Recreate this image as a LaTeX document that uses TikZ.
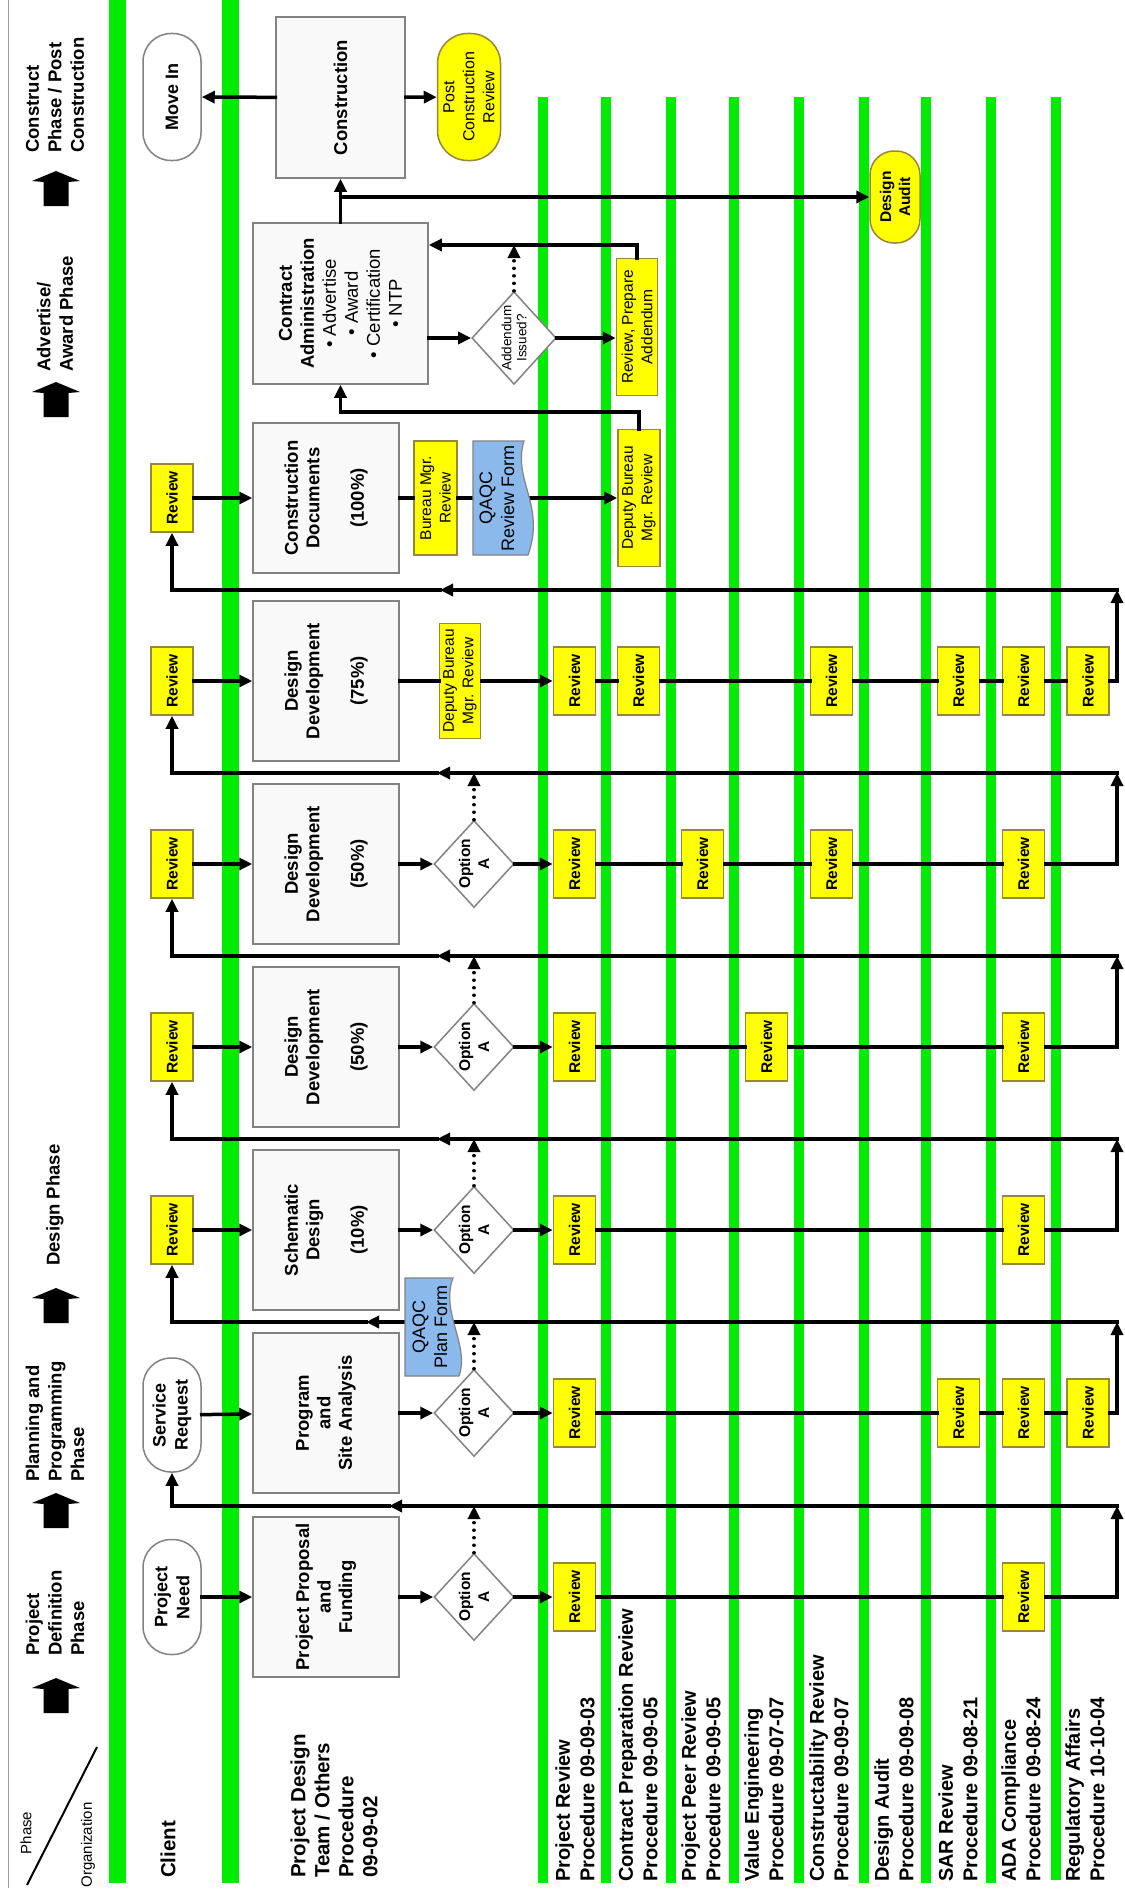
\documentclass[tikz,border=0pt]{standalone}
\usepackage{fontspec}
\setmainfont{Liberation Sans}
\usepackage{tikz}
\usetikzlibrary{shapes,shapes.geometric,arrows.meta,positioning,calc}
\usepackage{xcolor}
\definecolor{lanegreen}{RGB}{0,235,0}
\definecolor{revyellow}{RGB}{255,255,0}
\definecolor{revedge}{RGB}{150,135,60}
\definecolor{formblue}{RGB}{140,185,235}
\definecolor{boxedge}{RGB}{130,130,130}
\definecolor{boxfill}{RGB}{249,249,249}
\newcommand{\fsz}[2]{\fontsize{#1}{#2}\selectfont}
\pgfdeclarelayer{front}
\pgfsetlayers{main,front}

\begin{document}
\begin{tikzpicture}[
    x=1pt, y=-1pt,
    procbox/.style={rectangle, draw=boxedge, fill=boxfill, line width=1.5pt, rotate=90, minimum width=160pt, minimum height=146pt, align=center, font=\bfseries\fsz{18.5}{21.5}},
    review/.style={rectangle, draw=revedge, fill=revyellow, line width=1.5pt, rotate=90, minimum width=68pt, minimum height=42pt, inner sep=1pt, font=\bfseries\fsz{15.5}{18}},
    note/.style={rectangle, draw=revedge, fill=revyellow, line width=1.5pt, rotate=90, minimum height=41pt, inner sep=1pt, align=center, font=\fsz{15.5}{19.5}},
    term/.style={rectangle, rounded corners=28pt, draw=boxedge, fill=white, line width=1.5pt, rotate=90, minimum width=115pt, minimum height=58pt, align=center, font=\bfseries\fsz{18}{22}},
    yterm/.style={term, fill=revyellow, draw=revedge},
    decision/.style={diamond, draw=boxedge, fill=white, line width=1.5pt, rotate=90, aspect=1.1, inner sep=0pt, minimum width=87pt, minimum height=80pt, align=center, font=\bfseries\fsz{15.5}{19}},
    formtext/.style={rectangle, rotate=90, align=center, inner sep=0pt, font=\fsz{18}{22}},
    form/.style={draw=boxedge, fill=formblue, line width=1.2pt},
    phase/.style={rotate=90, anchor=west, align=left, inner sep=0pt, font=\bfseries\fsz{18.5}{22.5}},
    org/.style={rotate=90, anchor=west, align=left, inner sep=0pt, font=\bfseries\fsz{20}{24.5}},
    lane/.style={lanegreen, line width=10pt},
    bar/.style={lanegreen, line width=17pt},
    conn/.style={line width=3.5pt, line cap=rect},
    arrow/.style={conn, -{Triangle[length=13pt,width=12pt]}},
    dotarrow/.style={line width=3.5pt, line cap=round, dash pattern=on 0.01pt off 7.5pt, -{Triangle[length=13pt,width=12pt]}}
]

\fill[white] (0,0) rectangle (1124,1892);
\useasboundingbox (0,0) rectangle (1124,1892);

% Swim lanes
\draw[boxedge!80, line width=1.5pt] (8.5,0) -- (8.5,1888);
\draw[bar] (117,0) -- (117,1883);
\draw[bar] (230,0) -- (230,1883);
\draw[lane] (543,97) -- (543,1883);
\draw[lane] (606,97) -- (606,1883);
\draw[lane] (671,97) -- (671,1883);
\draw[lane] (734,97) -- (734,1883);
\draw[lane] (799,97) -- (799,1883);
\draw[lane] (864,97) -- (864,1883);
\draw[lane] (926,97) -- (926,1883);
\draw[lane] (991,97) -- (991,1883);
\draw[lane] (1056,97) -- (1056,1880);

% Phase column
\fill (56,171) -- ++(24,10) -- ++(-11.5,1) -- ++(0,24) -- ++(-25,0) -- ++(0,-24) -- ++(-11.5,-1) -- cycle;
\fill (56,382) -- ++(24,10) -- ++(-11.5,1) -- ++(0,24) -- ++(-25,0) -- ++(0,-24) -- ++(-11.5,-1) -- cycle;
\fill (56,1288) -- ++(24,10) -- ++(-11.5,1) -- ++(0,24) -- ++(-25,0) -- ++(0,-24) -- ++(-11.5,-1) -- cycle;
\fill (56,1493) -- ++(24,10) -- ++(-11.5,1) -- ++(0,24) -- ++(-25,0) -- ++(0,-24) -- ++(-11.5,-1) -- cycle;
\fill (56,1678) -- ++(24,10) -- ++(-11.5,1) -- ++(0,24) -- ++(-25,0) -- ++(0,-24) -- ++(-11.5,-1) -- cycle;
\node[phase] (phconstr) at (55,153) {Construct\\Phase / Post\\Construction};
\node[phase] (phaward) at (55,372) {Advertise/\\Award Phase};
\node[phase] (phdesign) at (55,1266) {Design Phase};
\node[phase] (phplan) at (55,1482) {Planning and\\Programming\\Phase};
\node[phase] (phdef) at (55,1656) {Project\\Definition\\Phase};

% Corner cell
\draw[line width=2pt] (27,1885) -- (97,1747);
\node[rotate=90, font=\fsz{15}{18}] (cornerph) at (26,1833) {Phase};
\node[rotate=90, font=\fsz{15}{18}] (cornerorg) at (88,1845) {Organization};

% Organization labels
\node[org, font=\bfseries\fsz{20.5}{24}] (lclient) at (168,1878) {Client};
\node[org, font=\bfseries\fsz{20.5}{24}] (lteam) at (334,1878) {Project Design\\Team / Others\\Procedure\\09-09-02};
\node[org] (lpr) at (575,1882) {Project Review\\Procedure 09-09-03};
\node[org] (lcpr) at (638,1882) {Contract Preparation Review\\Procedure 09-09-05};
\node[org] (lpeer) at (701,1882) {Project Peer Review\\Procedure 09-09-05};
\node[org] (lve) at (764,1882) {Value Engineering\\Procedure 09-07-07};
\node[org] (lcons) at (829,1882) {Constructability Review\\Procedure 09-09-07};
\node[org] (laudit) at (894,1882) {Design Audit\\Procedure 09-09-08};
\node[org] (lsar) at (958,1882) {SAR Review\\Procedure 09-08-21};
\node[org] (lada) at (1021,1882) {ADA Compliance\\Procedure 09-08-24};
\node[org] (lreg) at (1085,1882) {Regulatory Affairs\\Procedure 10-10-04};

% Construction and contract stage
\node[procbox, minimum width=161pt, minimum height=129pt] (constr) at (340.5,97.5) {Construction};
\node[term, minimum width=127pt] (movein) at (172,97) {Move In};
\node[yterm, minimum width=127pt, minimum height=63pt, rounded corners=30pt, font=\fsz{16}{20}] (pcr) at (469,97) {Post\\Construction\\Review};
\node[yterm, minimum width=92pt, minimum height=50pt, rounded corners=24pt, font=\bfseries\fsz{15.5}{19}] (audit) at (895,197) {Design\\Audit};
\node[procbox, minimum width=161pt, minimum height=175pt, font=\fsz{18.5}{22}] (ca) at (340.5,303.5) {\textbf{Contract}\\\textbf{Administration}\\• Advertise\\• Award\\• Certification\\• NTP};
\node[decision, minimum width=90pt, font=\fsz{13.5}{15}] (addq) at (514,338) {Addendum\\Issued?};
\node[note, minimum width=137pt] (prep) at (637,327) {Review, Prepare\\Addendum};

% Construction documents (100%)
\node[review] (crev7) at (172,498) {Review};
\node[procbox, minimum width=150pt] (cd) at (326,498) {Construction\\Documents\\[23pt](100\%)};
\node[note, minimum width=114pt, minimum height=43pt] (bmr7) at (435.5,498) {Bureau Mgr.\\Review};
\node[note, minimum width=137pt, minimum height=42pt] (dbm7) at (639,498) {Deputy Bureau\\Mgr. Review};
\begin{pgfonlayer}{front}
\draw[form] (473,441) -- (524,441) .. controls (512,480) and (546,505) .. (528,555) -- (473,555) -- cycle;
\node[formtext, minimum width=114pt, minimum height=44pt] (qrf7) at (497,498) {QAQC\\Review Form};
\end{pgfonlayer}

% Design development (75%)
\node[review] (crev6) at (172,681) {Review};
\node[procbox] (dd75) at (326,681) {Design\\Development\\[23pt](75\%)};
\node[note, minimum width=115pt] (dbm6) at (460,681) {Deputy Bureau\\Mgr. Review};
\node[review] (pr6) at (574.5,681) {Review};
\node[review] (cpr6) at (638.5,681) {Review};
\node[review] (cons6) at (831.5,681) {Review};
\node[review] (sar6) at (958.5,681) {Review};
\node[review] (ada6) at (1023.5,681) {Review};
\node[review] (reg6) at (1088,681) {Review};

% Design development (50%), second pass
\node[review] (crev5) at (172,864) {Review};
\node[procbox] (dd50b) at (326,864) {Design\\Development\\[23pt](50\%)};
\node[decision] (opt5) at (474,864) {Option\\A};
\node[review] (pr5) at (574.5,864) {Review};
\node[review] (peer5) at (702.5,864) {Review};
\node[review] (cons5) at (831.5,864) {Review};
\node[review] (ada5) at (1023.5,864) {Review};

% Design development (50%), first pass
\node[review] (crev4) at (172,1047) {Review};
\node[procbox] (dd50a) at (326,1047) {Design\\Development\\[23pt](50\%)};
\node[decision] (opt4) at (474,1047) {Option\\A};
\node[review] (pr4) at (574.5,1047) {Review};
\node[review] (ve4) at (766.5,1047) {Review};
\node[review] (ada4) at (1023.5,1047) {Review};

% Schematic design (10%)
\node[review] (crev3) at (172,1230) {Review};
\node[procbox] (schematic) at (326,1230) {Schematic\\Design\\[23pt](10\%)};
\node[decision] (opt3) at (474,1230) {Option\\A};
\node[review] (pr3) at (574.5,1230) {Review};
\node[review] (ada3) at (1023.5,1230) {Review};

% Program and site analysis
\node[term, minimum width=114pt] (request) at (172,1415) {Service\\Request};
\node[procbox] (program) at (326,1413) {Program\\and\\Site Analysis};
\node[decision] (opt2) at (474,1413) {Option\\A};
\node[review] (pr2) at (574.5,1413) {Review};
\node[review] (sar2) at (958.5,1413) {Review};
\node[review] (ada2) at (1023.5,1413) {Review};
\node[review] (reg2) at (1088,1413) {Review};
\begin{pgfonlayer}{front}
\draw[form] (405,1278) -- (453,1278) .. controls (440,1312) and (470,1345) .. (459,1376) -- (405,1376) -- cycle;
\node[formtext] (qpf) at (430,1327) {QAQC\\Plan Form};
\end{pgfonlayer}

% Project proposal and funding
\node[term] (need) at (172,1597) {Project\\Need};
\node[procbox] (proposal) at (326,1597) {Project Proposal\\and\\Funding};
\node[decision] (opt1) at (474,1597) {Option\\A};
\node[review] (pr1) at (574.5,1597) {Review};
\node[review] (ada1) at (1023.5,1597) {Review};

% Turning points
\coordinate (e1) at (1117,1597); \coordinate (f1) at (1117,1506); \coordinate (m1) at (389,1506);
\coordinate (e2) at (1117,1413); \coordinate (f2) at (1117,1322); \coordinate (m2) at (366,1322);
\coordinate (e3) at (1117,1230); \coordinate (f3) at (1117,1139); \coordinate (m3) at (437,1139);
\coordinate (e4) at (1117,1047); \coordinate (f4) at (1117,956); \coordinate (m4) at (437,956);
\coordinate (e5) at (1117,864); \coordinate (f5) at (1117,773); \coordinate (m5) at (437,773);
\coordinate (e6) at (1117,681); \coordinate (f6) at (1117,590); \coordinate (m6) at (440,590);
\coordinate (ret7) at (639,412);
\coordinate (ret8) at (637,245);
\coordinate (jct) at (340.5,197);

% Row 1
\draw[arrow] (need) -- (proposal);
\draw[arrow] (proposal) -- (opt1);
\draw[arrow] (opt1) -- (pr1);
\draw[arrow] (pr1) -- (ada1) -- (e1) -- (f1);
\draw[arrow] (f1) -- (m1);
\draw[arrow] (m1) -| (request);
\draw[dotarrow] (opt1) -- (opt1 |- f1);

% Row 2
\draw[arrow] (request) -- (program);
\draw[arrow] (program) -- (opt2);
\draw[arrow] (opt2) -- (pr2);
\draw[arrow] (pr2) -- (sar2) -- (ada2) -- (reg2) -- (e2) -- (f2);
\draw[arrow] (f2) -- (m2);
\draw[arrow] (m2) -| (crev3);
\draw[dotarrow] (opt2) -- (opt2 |- f2);

% Row 3
\draw[arrow] (crev3) -- (schematic);
\draw[arrow] (schematic) -- (opt3);
\draw[arrow] (opt3) -- (pr3);
\draw[arrow] (pr3) -- (ada3) -- (e3) -- (f3);
\draw[arrow] (f3) -- (m3);
\draw[arrow] (m3) -| (crev4);
\draw[dotarrow] (opt3) -- (opt3 |- f3);

% Row 4
\draw[arrow] (crev4) -- (dd50a);
\draw[arrow] (dd50a) -- (opt4);
\draw[arrow] (opt4) -- (pr4);
\draw[arrow] (pr4) -- (ve4) -- (ada4) -- (e4) -- (f4);
\draw[arrow] (f4) -- (m4);
\draw[arrow] (m4) -| (crev5);
\draw[dotarrow] (opt4) -- (opt4 |- f4);

% Row 5
\draw[arrow] (crev5) -- (dd50b);
\draw[arrow] (dd50b) -- (opt5);
\draw[arrow] (opt5) -- (pr5);
\draw[arrow] (pr5) -- (peer5) -- (cons5) -- (ada5) -- (e5) -- (f5);
\draw[arrow] (f5) -- (m5);
\draw[arrow] (m5) -| (crev6);
\draw[dotarrow] (opt5) -- (opt5 |- f5);

% Row 6
\draw[arrow] (crev6) -- (dd75);
\draw[conn] (dd75) -- (dbm6);
\draw[arrow] (dbm6) -- (pr6);
\draw[arrow] (pr6) -- (cpr6) -- (cons6) -- (sar6) -- (ada6) -- (reg6) -- (e6) -- (f6);
\draw[arrow] (f6) -- (m6);
\draw[arrow] (m6) -| (crev7);

% Row 7
\draw[arrow] (crev7) -- (cd);
\draw[conn] (cd) -- (bmr7) -- (qrf7);
\draw[arrow] (qrf7) -- (dbm7);
\draw[arrow] (dbm7) -- (ret7) -| (ca);

% Contract administration and construction
\draw[arrow] (ca.south |- addq) -- (addq);
\draw[arrow] (addq) -- (addq -| prep.north);
\draw[arrow] (prep) -- (ret8) -- (ret8 -| ca.south);
\draw[dotarrow] (addq) -- (addq |- ret8);
\draw[arrow] (ca) -- (constr);
\draw[arrow] (jct) -- (audit);
\draw[arrow] (constr) -- (movein);
\draw[arrow] (constr) -- (pcr);

\end{tikzpicture}
\end{document}
